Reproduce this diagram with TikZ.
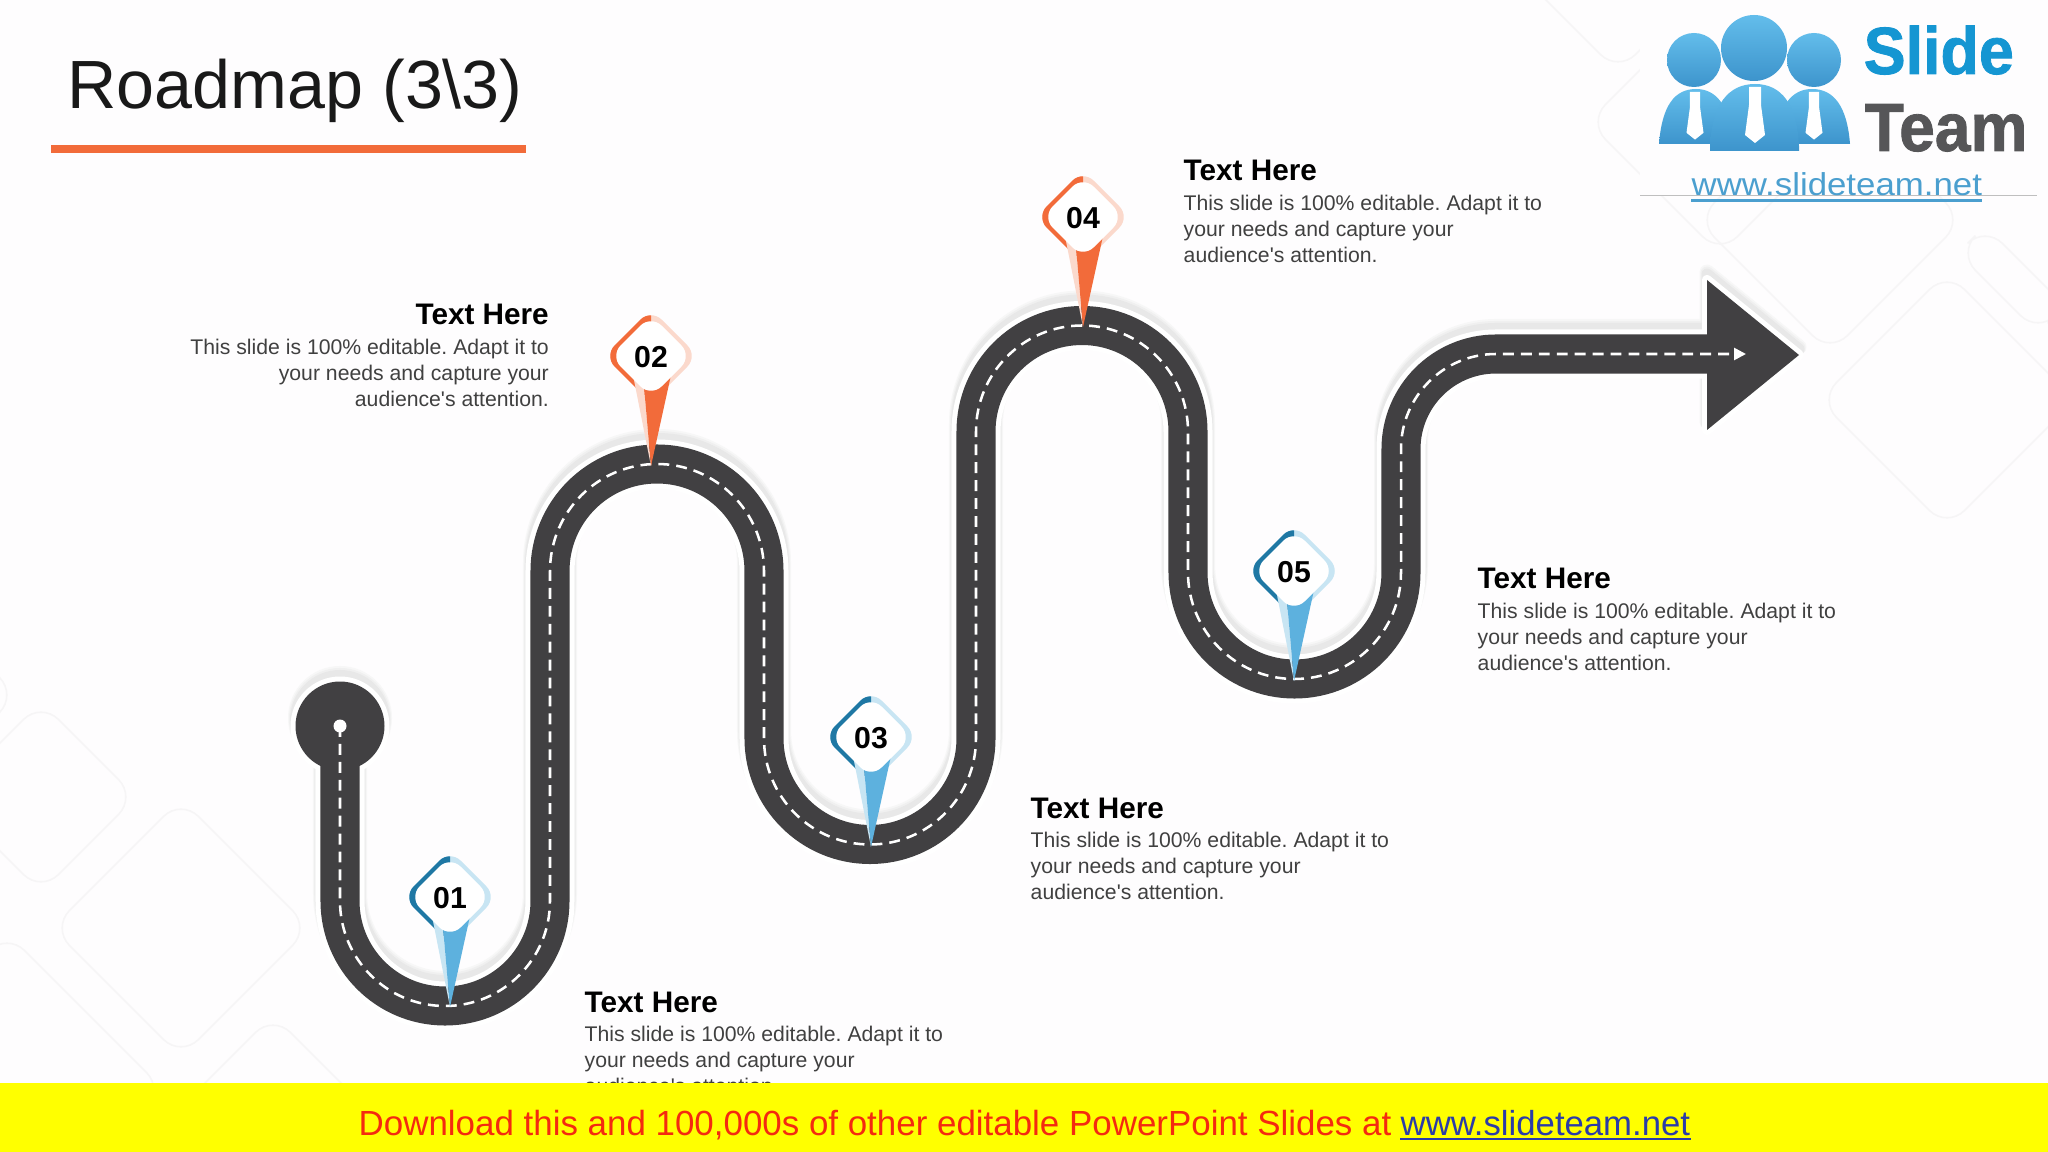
\documentclass[tikz,border=0pt]{standalone}
\usepackage{fontspec}
\usepackage{xcolor}
\usetikzlibrary{calc, arrows.meta, positioning}
\setmainfont{Liberation Sans}
\newfontfamily\urlfont[FakeStretch=1.1]{Liberation Sans}
\newfontfamily\brandfont[FakeStretch=0.94,FakeBold=1.2]{Liberation Sans Bold}
\frenchspacing

\definecolor{roadgrey}{HTML}{414042}
\definecolor{pagetint}{HTML}{FEFDFE}
\definecolor{bgline}{HTML}{F6F5F6}
\definecolor{titlebar}{HTML}{F26B3A}
\definecolor{orangelight}{HTML}{FBD9CC}
\definecolor{bluedark}{HTML}{1F78A4}
\definecolor{bluemid}{HTML}{5DB1DE}
\definecolor{bluelight}{HTML}{C8E5F3}
\definecolor{bodygrey}{HTML}{404040}
\definecolor{logotop}{HTML}{63BDEB}
\definecolor{logolow}{HTML}{3D94CC}
\definecolor{logourl}{HTML}{4B9FCF}
\definecolor{brandblue}{HTML}{1596D2}
\definecolor{brandgrey}{HTML}{565658}
\definecolor{bandyellow}{HTML}{FFFF00}
\definecolor{bandred}{HTML}{F42A10}
\definecolor{bandurl}{HTML}{2B3CA8}

% centre line of the road
\newcommand{\roadline}{(340,726) -- (340,901) arc[start angle=180, end angle=0, radius=105]
	-- (550,571) arc[start angle=180, end angle=360, radius=107]
	-- (764,738.5) arc[start angle=180, end angle=0, radius=106]
	-- (976,431.5) arc[start angle=180, end angle=360, radius=106]
	-- (1188,572.5) arc[start angle=180, end angle=0, radius=106.5]
	-- (1401,449) arc[start angle=180, end angle=270, radius=95]}
\newcommand{\bodylines}{This slide is 100\% editable. Adapt it to\\your needs and capture your\\audience\textquotesingle s attention.}

\begin{document}
\begin{tikzpicture}[auto, >=latex, x=0.01cm, y=-0.01cm]
		\tikzstyle{bgshape} = [draw=bgline, line width=0.45pt, rounded corners=7pt]
		\tikzstyle{headtext} = [inner sep=0pt, font=\fontsize{8.45}{10}\selectfont\bfseries, text=black]
		\tikzstyle{bodytext} = [inner sep=0pt, font=\fontsize{6.03}{7.3}\selectfont, text=bodygrey]
		\tikzstyle{pinnum} = [inner sep=0pt, font=\fontsize{8.6}{10}\selectfont\bfseries, text=black]
		\tikzstyle{lane} = [draw=white, line width=0.72pt, dash pattern=on 3.1pt off 2pt]
		
		\useasboundingbox (0,0) rectangle (2048,1152);
		\fill[pagetint] (0,0) rectangle (2048,1152);
		
		% background shapes
		\foreach \cx/\cy/\hw in {41/797/95, 181/928/129, 7/1090/157, 273/1140/125, -40/695/57,
			1618/-60/132, 1720/122/132, 1830/220/133, 1947/400/128}
			\draw[bgshape] (\cx-\hw,\cy) -- (\cx,\cy-\hw) -- (\cx+\hw,\cy) -- (\cx,\cy+\hw) -- cycle;
		\draw[bgshape] (1985,226) -- (1958,253) -- (2038,333) -- (2065,306) -- cycle;
		
		% title
		\node[inner sep=0pt, anchor=base west, font=\fontsize{19.4}{22}\selectfont, text=black!90] at (67,108.5) (title) {Roadmap (3\textbackslash 3)};
		\fill[titlebar] (51,145) rectangle (526,153);
		
		% soft edge round the road
		\foreach \up/\extra/\shade in {8/15/black!3, 7/13/black!6, 6/11/black!9, 0/10/white} {
			\begin{scope}[yshift=\up*0.2845pt]
				\draw[draw=\shade, line width={(39+\extra)*0.2845pt}] \roadline -- (1710,354);
				\fill[\shade] (340,726) circle[radius=44.5+\extra/2];
				\draw[draw=\shade, fill=\shade, line join=round, line width={\extra*0.2845pt}] (1707,280) -- (1799,355) -- (1707,430) -- cycle;
			\end{scope}
		}
		
		% road
		\draw[draw=roadgrey, line width=11.1pt] \roadline -- (1710,354);
		\fill[roadgrey] (340,726) circle[radius=44.5];
		\fill[roadgrey] (1707,280) -- (1799,355) -- (1707,430) -- cycle;
		\draw[lane, -{Triangle[length=3.4pt, width=3.4pt]}] \roadline -- (1746,354);
		\fill[white] (340,726) circle[radius=6.5];
		
		% pins
		\foreach \px/\py/\num/\dark/\mid/\light in {450/897/01/bluedark/bluemid/bluelight,
			651/356/02/titlebar/titlebar/orangelight,
			871/737/03/bluedark/bluemid/bluelight,
			1083/217/04/titlebar/titlebar/orangelight,
			1294/571/05/bluedark/bluemid/bluelight} {
			\begin{scope}[shift={(\px,\py)}]
				\fill[\light, rounded corners=4.3pt] (-47,0) -- (0,-47) -- (47,0) -- (0,47) -- cycle;
				\begin{scope}
					\clip (-50,-50) rectangle (0,50);
					\fill[\dark, rounded corners=4.3pt] (-47,0) -- (0,-47) -- (47,0) -- (0,47) -- cycle;
				\end{scope}
				\fill[\light] (-18,19) -- (-8,19) -- (0,110) -- cycle;
				\fill[\mid] (-8,19) -- (20,19) -- (0,110) -- cycle;
				\fill[white, rounded corners=4.3pt] (-41,0) -- (0,-41) -- (41,0) -- (0,41) -- cycle;
				\node[pinnum] at (0,1) (pin\num) {\num};
			\end{scope}
		}
		
		% labels
		\node[headtext, anchor=base west] at (584,1012) (head1) {Text Here};
		\node[bodytext, align=left, below right=3.6pt and 0pt of head1.south west] (text1) {\bodylines};
		\node[headtext, anchor=base east] at (549.5,325) (head2) {Text Here};
		\node[bodytext, align=right, below left=3.6pt and 0pt of head2.south east] (text2) {\bodylines};
		\node[headtext, anchor=base west] at (1030,818) (head3) {Text Here};
		\node[bodytext, align=left, below right=3.6pt and 0pt of head3.south west] (text3) {\bodylines};
		\node[headtext, anchor=base west] at (1183,181) (head4) {Text Here};
		\node[bodytext, align=left, below right=3.6pt and 0pt of head4.south west] (text4) {\bodylines};
		\node[headtext, anchor=base west] at (1477,589) (head5) {Text Here};
		\node[bodytext, align=left, below right=3.6pt and 0pt of head5.south west] (text5) {\bodylines};
		
		% logo
		\fill[pagetint] (1640,0) rectangle (2037,195);
		\draw[black!25, line width=0.3pt] (1640,195.5) -- (2037,195.5);
		\shade[top color=logotop, bottom color=logolow] (1659,144) .. controls (1662,105) and (1675,89) .. (1696,89) .. controls (1716,89) and (1730,105) .. (1733,144) -- cycle;
		\shade[top color=logotop, bottom color=logolow] (1775,144) .. controls (1778,105) and (1792,89) .. (1812,89) .. controls (1833,89) and (1847,105) .. (1850,144) -- cycle;
		\shade[top color=logotop, bottom color=logolow] (1710,146) .. controls (1712,105) and (1728,84) .. (1755,84) .. controls (1782,84) and (1797,105) .. (1799,146) -- (1799,151) -- (1710,151) -- cycle;
		\shade[top color=logotop, bottom color=logolow] (1694,60) circle[radius=27];
		\shade[top color=logotop, bottom color=logolow] (1814,60) circle[radius=27];
		\shade[top color=logotop, bottom color=logolow] (1754,48) circle[radius=33];
		\foreach \tx/\ty/\ts in {1695/92/0.85, 1814/92/0.85, 1755/87/1} {
			\fill[white, shift={(\tx,\ty)}, scale=\ts] (-6,0) -- (6,0) -- (6,18) -- (10,48) -- (0,56) -- (-10,48) -- (-6,18) -- cycle;
		}
		\node[inner sep=0pt, anchor=base west, text=brandblue, font=\fontsize{19}{22}\brandfont] at (1863,74) (slide) {Slide};
		\node[inner sep=0pt, anchor=base west, text=brandgrey, font=\fontsize{19.4}{22}\brandfont] at (1864,151) (team) {Team};
		\node[inner sep=0pt, anchor=base west, text=logourl, font=\fontsize{9}{11}\urlfont] at (1691,196) (logourl) {www.slideteam.net};
		\draw[logourl, line width=0.6pt] (1691,200.5) -- (1982,200.5);
		
		% download band
		\fill[bandyellow] (0,1083) rectangle (2048,1152);
		\node[inner sep=0pt, anchor=base west, text=bandred, font=\fontsize{9.93}{12}\selectfont] at (358,1135) (band) {Download this and 100,000s of other editable PowerPoint Slides at};
		\node[inner sep=0pt, anchor=base west, text=bandurl, font=\fontsize{9.87}{12}\selectfont] at (1400,1135) (bandlink) {www.slideteam.net};
		\draw[bandurl, line width=0.5pt] (1400,1139) -- (1691,1139);
	\end{tikzpicture}
\end{document}
